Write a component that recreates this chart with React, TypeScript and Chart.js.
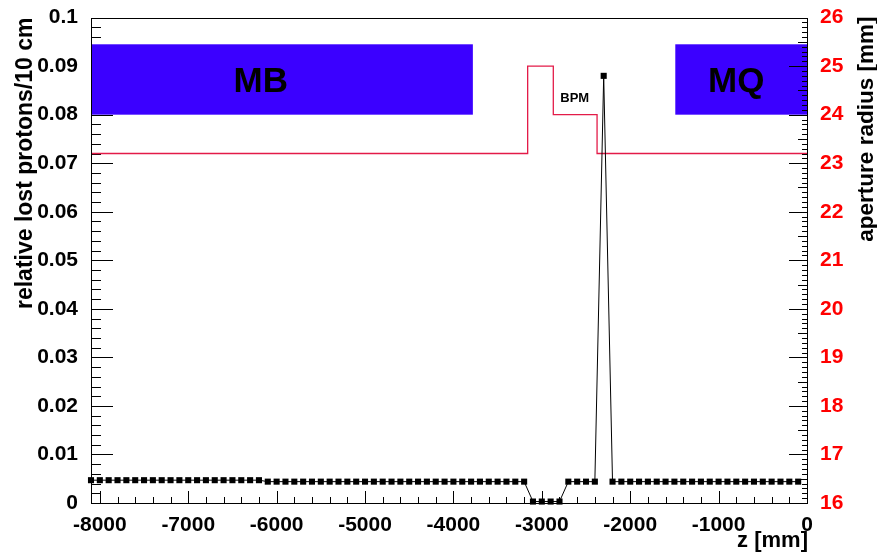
import React, { useEffect, useRef } from 'react';
import { Chart, registerables } from 'chart.js';

Chart.register(...registerables);

// ---- data ----
// bin positions along the beam (mm)
const zPositions: number[] = [
  -8100, -8000, -7900, -7800, -7700, -7600, -7500, -7400, -7300, -7200,
  -7100, -7000, -6900, -6800, -6700, -6600, -6500, -6400, -6300, -6200,
  -6100, -6000, -5900, -5800, -5700, -5600, -5500, -5400, -5300, -5200,
  -5100, -5000, -4900, -4800, -4700, -4600, -4500, -4400, -4300, -4200,
  -4100, -4000, -3900, -3800, -3700, -3600, -3500, -3400, -3300, -3200,
  -3100, -3000, -2900, -2800, -2700, -2600, -2500, -2400, -2300, -2200,
  -2100, -2000, -1900, -1800, -1700, -1600, -1500, -1400, -1300, -1200,
  -1100, -1000, -900, -800, -700, -600, -500, -400, -300, -200,
  -100,
];
// relative lost protons per 10 cm
const lostProtons: number[] = [
  0.0047, 0.0047, 0.0047, 0.0047, 0.0047, 0.0047, 0.0047, 0.0047, 0.0047, 0.0047,
  0.0047, 0.0047, 0.0047, 0.0047, 0.0047, 0.0047, 0.0047, 0.0047, 0.0047, 0.0047,
  0.0044, 0.0044, 0.0044, 0.0044, 0.0044, 0.0044, 0.0044, 0.0044, 0.0044, 0.0044,
  0.0044, 0.0044, 0.0044, 0.0044, 0.0044, 0.0044, 0.0044, 0.0044, 0.0044, 0.0044,
  0.0044, 0.0044, 0.0044, 0.0044, 0.0044, 0.0044, 0.0044, 0.0044, 0.0044, 0.0044,
  0.0003, 0.0003, 0.0003, 0.0003, 0.0044, 0.0044, 0.0044, 0.0044, 0.088, 0.0044,
  0.0044, 0.0044, 0.0044, 0.0044, 0.0044, 0.0044, 0.0044, 0.0044, 0.0044, 0.0044,
  0.0044, 0.0044, 0.0044, 0.0044, 0.0044, 0.0044, 0.0044, 0.0044, 0.0044, 0.0044,
  0.0044,
];
// aperture profile (mm)
const apertureZ: number[] = [-8100, -3160, -3160, -2870, -2870, -2375, -2375, 0];
const apertureR: number[] = [23.2, 23.2, 25, 25, 24, 24, 23.2, 23.2];

// axis tick labels
const xTickValues: number[] = [-8000, -7000, -6000, -5000, -4000, -3000, -2000, -1000, 0];
const yTickLabels: string[] = ['0', '0.01', '0.02', '0.03', '0.04', '0.05', '0.06', '0.07', '0.08', '0.09', '0.1'];
const y2TickLabels: string[] = ['16', '17', '18', '19', '20', '21', '22', '23', '24', '25', '26'];

// magnets
const magnetNames: string[] = ['MB', 'MQ'];
const magnetStart: number[] = [-8100, -1490];
const magnetEnd: number[] = [-3780, 0];
const magnetLabelZ: number[] = [-6180, -800];
const magnetBottom = 0.08;
const magnetTop = 0.0945;
const magnetLabelY = 0.0867;
const bpmLabel = 'BPM';
const bpmLabelZ = -2628;
const bpmLabelY = 0.0833;

const xTitle = 'z [mm]';
const yTitle = 'relative lost protons/10 cm';
const y2Title = 'aperture radius [mm]';

const FONT = '"Liberation Sans", Arial, Helvetica, sans-serif';

const overlay = {
  id: 'overlay',
  beforeDatasetsDraw(chart: any) {
    const { ctx, chartArea: a, scales } = chart;
    const x = scales.x;
    const y = scales.y;
    ctx.save();
    ctx.strokeStyle = '#000';
    ctx.lineWidth = 1;
    ctx.beginPath();
    for (let v = -8000; v <= 0; v += 200) {
      const px = Math.round(x.getPixelForValue(v)) + 0.5;
      const len = v % 1000 === 0 ? 12 : 6;
      ctx.moveTo(px, a.bottom);
      ctx.lineTo(px, a.bottom - len);
    }
    for (let k = 0; k <= 50; k++) {
      const py = Math.round(y.getPixelForValue(k * 0.002)) + 0.5;
      const len = k % 5 === 0 ? 22 : 10;
      ctx.moveTo(a.left, py);
      ctx.lineTo(a.left + len, py);
    }
    ctx.stroke();
    ctx.restore();
  },
  afterDatasetsDraw(chart: any) {
    const { ctx, chartArea: a, scales } = chart;
    const x = scales.x;
    const y = scales.y;
    const y2 = scales.y2;
    ctx.save();
    // magnets
    ctx.fillStyle = '#3b00ff';
    for (let i = 0; i < magnetNames.length; i++) {
      const x0 = x.getPixelForValue(magnetStart[i]);
      const x1 = x.getPixelForValue(magnetEnd[i]);
      const yt = y.getPixelForValue(magnetTop);
      const yb = y.getPixelForValue(magnetBottom);
      ctx.fillRect(x0, yt, x1 - x0, yb - yt);
    }
    ctx.fillStyle = '#000';
    ctx.textAlign = 'center';
    ctx.textBaseline = 'middle';
    ctx.font = `bold 35px ${FONT}`;
    for (let i = 0; i < magnetNames.length; i++) {
      ctx.fillText(magnetNames[i], x.getPixelForValue(magnetLabelZ[i]), y.getPixelForValue(magnetLabelY));
    }
    ctx.font = `bold 13px ${FONT}`;
    ctx.fillText(bpmLabel, x.getPixelForValue(bpmLabelZ), y.getPixelForValue(bpmLabelY));

    // frame
    ctx.strokeStyle = '#000';
    ctx.lineWidth = 1;
    ctx.strokeRect(Math.round(a.left) + 0.5, Math.round(a.top) + 0.5, Math.round(a.right - a.left), Math.round(a.bottom - a.top));

    // right axis ticks
    ctx.beginPath();
    for (let k = 0; k <= 100; k++) {
      const py = Math.round(y2.getPixelForValue(16 + k * 0.1)) + 0.5;
      const len = k % 10 === 0 ? 18 : k % 5 === 0 ? 9 : 5;
      ctx.moveTo(a.right, py);
      ctx.lineTo(a.right - len, py);
    }
    ctx.stroke();

    // titles
    ctx.fillStyle = '#000';
    ctx.textBaseline = 'middle';
    ctx.textAlign = 'right';
    ctx.font = `bold 22px ${FONT}`;
    ctx.fillText(xTitle, a.right + 1, 541);
    ctx.save();
    ctx.font = `bold 23px ${FONT}`;
    ctx.translate(26, a.top);
    ctx.rotate(-Math.PI / 2);
    ctx.fillText(yTitle, 0, 0);
    ctx.restore();
    ctx.save();
    ctx.font = `bold 22.5px ${FONT}`;
    ctx.translate(867, a.top - 1);
    ctx.rotate(-Math.PI / 2);
    ctx.fillText(y2Title, 0, 0);
    ctx.restore();
    ctx.restore();
  },
};

export default function App() {
  const ref = useRef<HTMLCanvasElement | null>(null);
  useEffect(() => {
    if (!ref.current) return;
    const tickFont = { family: FONT, size: 21, weight: 'bold' as const };
    const chart = new Chart(ref.current, {
      type: 'line',
      data: {
        datasets: [
          {
            label: 'lost protons',
            data: zPositions.map((z, i) => ({ x: z, y: lostProtons[i] })),
            yAxisID: 'y',
            borderColor: '#000',
            borderWidth: 1,
            pointStyle: 'rect',
            pointRadius: 4.3,
            pointBackgroundColor: '#000',
            pointBorderColor: '#000',
            pointBorderWidth: 0,
            tension: 0,
            clip: false as any,
          },
          {
            label: 'aperture',
            data: apertureZ.map((z, i) => ({ x: z, y: apertureR[i] })),
            yAxisID: 'y2',
            borderColor: '#e31b48',
            borderWidth: 1.3,
            pointRadius: 0,
            tension: 0,
          },
        ],
      },
      options: {
        animation: false,
        responsive: false,
        events: [],
        layout: { padding: { top: 15, left: 0, right: 0, bottom: 0 } },
        plugins: { legend: { display: false }, tooltip: { enabled: false } },
        scales: {
          x: {
            type: 'linear',
            min: -8100,
            max: 0,
            grid: { display: false },
            border: { display: false },
            afterBuildTicks: (s: any) => { s.ticks = xTickValues.map((v) => ({ value: v })); },
            ticks: {
              autoSkip: false,
              maxRotation: 0,
              color: '#000',
              font: tickFont,
              padding: 2,
              callback: (v: any) => String(v),
            },
            afterFit: (s: any) => { s.height = 50; },
          },
          y: {
            type: 'linear',
            position: 'left',
            min: 0,
            max: 0.1,
            grid: { display: false },
            border: { display: false },
            afterBuildTicks: (s: any) => { s.ticks = yTickLabels.map((t) => ({ value: Number(t) })); },
            ticks: {
              autoSkip: false,
              color: '#000',
              font: tickFont,
              padding: 5,
              callback: (v: any, i: number) => yTickLabels[i],
            },
            afterFit: (s: any) => { s.width = 91; },
          },
          y2: {
            type: 'linear',
            position: 'right',
            min: 16,
            max: 26,
            grid: { display: false },
            border: { display: false },
            afterBuildTicks: (s: any) => { s.ticks = y2TickLabels.map((t) => ({ value: Number(t) })); },
            ticks: {
              autoSkip: false,
              color: '#ff0000',
              font: tickFont,
              padding: 5,
              callback: (v: any, i: number) => y2TickLabels[i],
            },
            afterFit: (s: any) => { s.width = 70; },
          },
        },
      },
      plugins: [overlay],
    });
    return () => chart.destroy();
  }, []);
  return (
    <div style={{ position: 'fixed', left: 0, top: 0, width: 877, height: 553, background: '#fff' }}>
      <canvas ref={ref} width={877} height={553} style={{ display: 'block' }} />
    </div>
  );
}
